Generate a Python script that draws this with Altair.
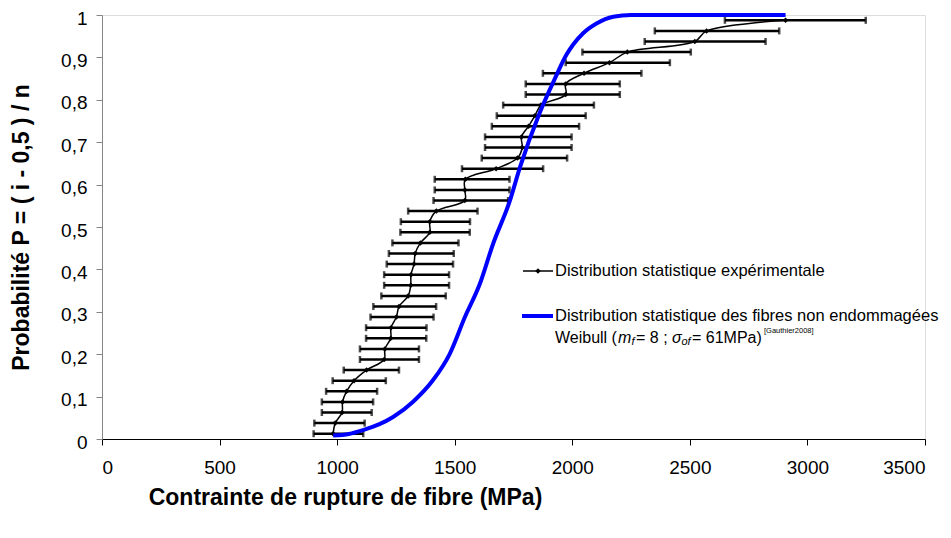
import altair as alt
import pandas as pd

# Probability P = (i - 0.5) / n for n = 40 fibres
prob = [0.0125, 0.0375, 0.0625, 0.0875, 0.1125, 0.1375, 0.1625, 0.1875, 0.2125, 0.2375,
        0.2625, 0.2875, 0.3125, 0.3375, 0.3625, 0.3875, 0.4125, 0.4375, 0.4625, 0.4875,
        0.5125, 0.5375, 0.5625, 0.5875, 0.6125, 0.6375, 0.6625, 0.6875, 0.7125, 0.7375,
        0.7625, 0.7875, 0.8125, 0.8375, 0.8625, 0.8875, 0.9125, 0.9375, 0.9625, 0.9875]
stress = [983, 992, 1021, 1023, 1040, 1072, 1125, 1200, 1203, 1228,
          1229, 1252, 1263, 1302, 1313, 1314, 1327, 1332, 1354, 1394,
          1394, 1422, 1543, 1543, 1545, 1676, 1767, 1787, 1784, 1814,
          1841, 1867, 1972, 1972, 2050, 2158, 2234, 2521, 2571, 2907]
err_low = [900, 903, 935, 935, 953, 981, 1028, 1097, 1097, 1123,
           1123, 1142, 1154, 1188, 1200, 1200, 1211, 1220, 1235, 1269,
           1271, 1302, 1410, 1415, 1415, 1531, 1615, 1629, 1629, 1658,
           1679, 1706, 1802, 1802, 1875, 1972, 2043, 2308, 2351, 2649]
err_high = [1111, 1117, 1147, 1153, 1170, 1207, 1263, 1348, 1348, 1379,
            1380, 1410, 1421, 1462, 1476, 1476, 1493, 1496, 1516, 1564,
            1565, 1597, 1727, 1733, 1733, 1876, 1978, 1997, 1997, 2029,
            2057, 2092, 2202, 2202, 2294, 2415, 2504, 2822, 2880, 3248]

# Weibull curve (undamaged fibres)
weib_x = [983, 1050, 1110, 1180, 1238, 1323, 1408, 1479, 1543, 1607, 1663,
          1734, 1777, 1862, 1926, 1975, 2046, 2103, 2174, 2250, 2907]
weib_p = [0.008, 0.012, 0.021, 0.035, 0.052, 0.088, 0.139, 0.201, 0.287, 0.366, 0.46,
          0.561, 0.64, 0.77, 0.85, 0.906, 0.957, 0.98, 0.996, 1.0, 1.0]

x_ticks = [0, 500, 1000, 1500, 2000, 2500, 3000, 3500]
y_ticks = [0, 0.1, 0.2, 0.3, 0.4, 0.5, 0.6, 0.7, 0.8, 0.9, 1]

FONT = "Liberation Sans"

exp_df = pd.DataFrame({"p": prob, "s": stress, "lo": err_low, "hi": err_high,
                       "i": list(range(1, len(prob) + 1))})
weib_df = pd.DataFrame({"s": weib_x, "p": weib_p})

xscale = alt.Scale(domain=[0, 3500], nice=False)
yscale = alt.Scale(domain=[0, 1], nice=False)

xaxis = alt.Axis(values=x_ticks, format="d", title="Contrainte de rupture de fibre (MPa)", grid=False,
                 domainColor="#000000", tickColor="#000000", tickSize=6, labelPadding=13,
                 labelFontSize=19, labelFont=FONT, labelColor="#000000",
                 titleFont=FONT, titleFontSize=23, titleFontWeight="bold", titleColor="#000000",
                 titleX=243, titleY=58, titleAlign="center", titleBaseline="middle")
yaxis = alt.Axis(values=y_ticks, title="Probabilité P = ( i - 0,5 ) / n", grid=False,
                 labelExpr="datum.value == 0 ? '0' : datum.value == 1 ? '1' : replace(format(datum.value, '.1f'), '.', ',')",
                 domainColor="#868686", tickColor="#868686", tickSize=6, labelPadding=9,
                 labelOffset=3,
                 labelFontSize=19, labelFont=FONT, labelColor="#000000",
                 titleFont=FONT, titleFontSize=23, titleFontWeight="bold", titleColor="#000000",
                 titleX=-81, titleY=212, titleAlign="center", titleBaseline="middle")

base = alt.Chart(exp_df)

bars = base.mark_rule(color="black", strokeWidth=2.5).encode(
    x=alt.X("lo:Q", scale=xscale, axis=xaxis),
    x2="hi:Q",
    y=alt.Y("p:Q", scale=yscale, axis=yaxis),
)
cap_lo = base.mark_tick(color="black", orient="vertical", size=7, thickness=2.5).encode(
    x=alt.X("lo:Q", scale=xscale), y=alt.Y("p:Q", scale=yscale))
cap_hi = base.mark_tick(color="black", orient="vertical", size=7, thickness=2.5).encode(
    x=alt.X("hi:Q", scale=xscale), y=alt.Y("p:Q", scale=yscale))

exp_line = base.mark_line(color="black", strokeWidth=1.5, interpolate="catmull-rom").encode(
    x=alt.X("s:Q", scale=xscale), y=alt.Y("p:Q", scale=yscale), order="i:Q")
exp_pts = base.mark_point(shape="diamond", filled=True, color="black", size=30, opacity=1).encode(
    x=alt.X("s:Q", scale=xscale), y=alt.Y("p:Q", scale=yscale))

weib_line = alt.Chart(weib_df).mark_line(color="#0000ff", strokeWidth=4, interpolate="monotone").encode(
    x=alt.X("s:Q", scale=xscale), y=alt.Y("p:Q", scale=yscale))

one = alt.Data(values=[{"k": 1}])
leg_y1, leg_y2, leg_y3 = 256, 301, 323
LX0, LX1, TX = 421, 451, 453
LEG_FS = 16.5

leg_line1 = alt.Chart(one).mark_rule(color="black", strokeWidth=1.5).encode(
    x=alt.value(LX0), x2=alt.value(LX1), y=alt.value(leg_y1))
leg_pt1 = alt.Chart(one).mark_point(shape="diamond", filled=True, color="black", size=30, opacity=1).encode(
    x=alt.value(436), y=alt.value(leg_y1))
leg_txt1 = alt.Chart(one).mark_text(align="left", baseline="middle", font=FONT, fontSize=LEG_FS, color="black").encode(
    x=alt.value(TX), y=alt.value(leg_y1), text=alt.value("Distribution statistique expérimentale"))
leg_line2 = alt.Chart(one).mark_rule(color="#0000ff", strokeWidth=4).encode(
    x=alt.value(LX0 - 1), x2=alt.value(LX1), y=alt.value(leg_y2))
leg_txt2 = alt.Chart(one).mark_text(align="left", baseline="middle", font=FONT, fontSize=LEG_FS, color="black").encode(
    x=alt.value(TX), y=alt.value(leg_y2), text=alt.value("Distribution statistique des fibres non endommagées"))

# Third legend line, composed of pieces (italic symbols, subscripts, superscript)
pieces = [
    ("Weibull (", 453, 0, 16, "normal"),
    ("m", 516, 0, 16, "italic"),
    ("f", 529.5, 4, 11, "italic"),
    ("= 8 ; ", 534, 0, 16, "normal"),
    ("σ", 570, 0, 16, "italic"),
    ("of", 579.5, 4, 11, "italic"),
    ("= 61MPa)", 590, 0, 16, "normal"),
    ("[Gauthier2008]", 662, -7, 7.5, "normal"),
]
leg3 = []
for txt, px, dy, fs, style in pieces:
    leg3.append(alt.Chart(one).mark_text(align="left", baseline="middle", font=FONT, fontSize=fs,
                                         fontStyle=style, color="black").encode(
        x=alt.value(px), y=alt.value(leg_y3 + dy), text=alt.value(txt)))

chart = alt.layer(bars, cap_lo, cap_hi, exp_line, exp_pts, weib_line,
                  leg_line1, leg_pt1, leg_txt1, leg_line2, leg_txt2, *leg3).properties(
    width=823, height=424,
    autosize=alt.AutoSizeParams(type="none"),
    padding={"left": 94, "top": 7, "right": 18, "bottom": 85},
).configure_view(stroke=None).configure(background="white")

chart.save("out.html", embed_options={"renderer": "svg", "actions": False})
